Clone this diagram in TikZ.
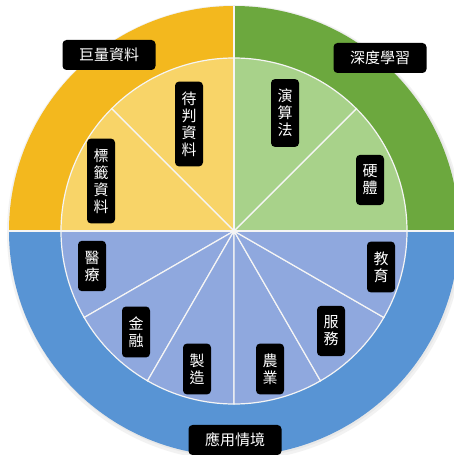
\documentclass[tikz,border=0pt]{standalone}
\usepackage{fontspec}
\usetikzlibrary{calc}
\newfontfamily\cjk{Noto Sans CJK TC}
\definecolor{outY}{RGB}{243,184,30}
\definecolor{inY}{RGB}{248,212,104}
\definecolor{outG}{RGB}{108,168,62}
\definecolor{inG}{RGB}{168,210,138}
\definecolor{outB}{RGB}{88,148,212}
\definecolor{inB}{RGB}{143,168,222}
\tikzset{
  lbl/.style={fill=black, rounded corners=4pt, text=white, font=\cjk\fontsize{15}{17}\selectfont, align=center},
  hlbl/.style={lbl, minimum width=93pt, minimum height=30pt, inner sep=2pt},
  vlbl/.style={lbl, minimum width=28pt, inner xsep=2pt, inner ysep=10pt},
  sector/.style={draw=white!92!gray, line width=1.2pt},
}
\begin{document}
\begin{tikzpicture}[x=1pt,y=1pt]
\useasboundingbox (0,0) rectangle (454,455);
\fill[white] (0,0) rectangle (454,455);
\coordinate (O) at (234,224);
% soft shadow
\fill[gray!10] ($(O)+(1,-2)$) circle[radius=228];
\fill[gray!18] ($(O)+(1,-1)$) circle[radius=226];
% outer ring
\fill[outG] (O) -- ++(0:225) arc[start angle=0,end angle=90,radius=225] -- cycle;
\fill[outY] (O) -- ++(90:225) arc[start angle=90,end angle=180,radius=225] -- cycle;
\fill[outB] (O) -- ++(180:225) arc[start angle=180,end angle=360,radius=225] -- cycle;
% inner sectors
\filldraw[sector, fill=inG] (O) -- ++(0:173) arc[start angle=0,end angle=45,radius=173] -- cycle;
\filldraw[sector, fill=inG] (O) -- ++(45:173) arc[start angle=45,end angle=90,radius=173] -- cycle;
\filldraw[sector, fill=inY] (O) -- ++(90:173) arc[start angle=90,end angle=135,radius=173] -- cycle;
\filldraw[sector, fill=inY] (O) -- ++(135:173) arc[start angle=135,end angle=180,radius=173] -- cycle;
\foreach \a in {180,210,240,270,300,330}{
  \filldraw[sector, fill=inB] (O) -- ++(\a:173) arc[start angle=\a,end angle=\a+30,radius=173] -- cycle;
}
% dividing lines of the outer ring
\draw[white!92!gray, line width=1.2pt] (O) -- ++(90:225);
\draw[white!92!gray, line width=1.2pt] (O) -- ++(0:225);
\draw[white!92!gray, line width=1.2pt] (O) -- ++(180:225);
% labels
\node[hlbl] (bigdata) at (109,400) {巨量資料};
\node[hlbl] (deep) at (380,397) {深度學習};
\node[hlbl] (app) at (235,15) {應用情境};
\node[vlbl] (pending) at (189,331) {待\\判\\資\\料};
\node[vlbl] (labeled) at (101,274) {標\\籤\\資\\料};
\node[vlbl] (algo) at (285,342) {演\\算\\法};
\node[vlbl] (hw) at (370,275) {硬\\體};
\node[vlbl] (edu) at (381,188) {教\\育};
\node[vlbl] (serv) at (331,124) {服\\務};
\node[vlbl] (agri) at (270,86) {農\\業};
\node[vlbl] (med) at (92,189) {醫\\療};
\node[vlbl] (fin) at (136,123) {金\\融};
\node[vlbl] (manu) at (197,86) {製\\造};
\end{tikzpicture}
\end{document}
